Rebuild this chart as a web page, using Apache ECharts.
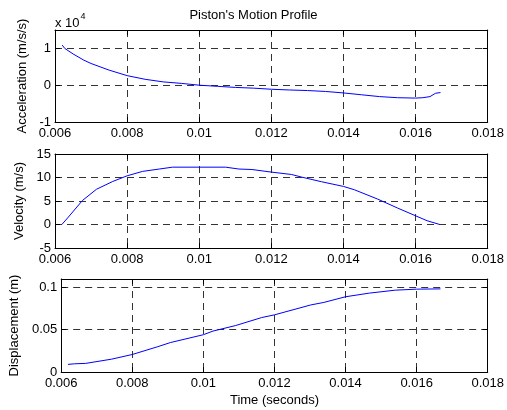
<!DOCTYPE html>
<html>
<head>
<meta charset="utf-8">
<script src="https://cdn.jsdelivr.net/npm/echarts@6/dist/echarts.min.js"></script>
<style>html,body{margin:0;padding:0;background:#fff}#c{width:507px;height:410px}</style>
</head>
<body>
<div id="c"></div>
<script>
// ---- data ----
var accelTime = [0.0062, 0.00627, 0.0063, 0.0065, 0.0068, 0.007, 0.0075, 0.008, 0.0085, 0.009, 0.0095, 0.010, 0.0105, 0.011, 0.0115, 0.012, 0.0125, 0.013, 0.0135, 0.014, 0.0145, 0.015, 0.0155, 0.016, 0.0162, 0.0164, 0.01655, 0.01669];
var accelX1e4 = [1.09, 1.0, 0.97, 0.85, 0.68, 0.59, 0.41, 0.26, 0.16, 0.09, 0.05, 0.0, -0.03, -0.06, -0.08, -0.11, -0.13, -0.145, -0.17, -0.21, -0.26, -0.31, -0.34, -0.35, -0.34, -0.31, -0.22, -0.2];
var velTime = [0.00619, 0.00637, 0.00676, 0.00715, 0.0076, 0.008, 0.00843, 0.00889, 0.00926, 0.010, 0.01073, 0.0111, 0.01146, 0.012, 0.01256, 0.01283, 0.01339, 0.014, 0.0143, 0.01495, 0.0155, 0.016, 0.01632, 0.01667];
var velocity = [0.0, 1.57, 5.1, 7.5, 9.15, 10.36, 11.3, 11.8, 12.2, 12.2, 12.2, 11.8, 11.7, 11.15, 10.64, 10.1, 9.1, 8.1, 7.4, 5.4, 3.5, 1.85, 0.8, 0.0];
var dispTime = [0.00619, 0.00637, 0.00669, 0.00742, 0.008, 0.0087, 0.00907, 0.010, 0.01027, 0.01091, 0.01164, 0.012, 0.01302, 0.01339, 0.014, 0.01467, 0.0154, 0.016, 0.01667];
var displacement = [0.009, 0.0097, 0.0102, 0.0152, 0.0207, 0.0297, 0.0348, 0.0441, 0.0484, 0.055, 0.0644, 0.0676, 0.0793, 0.0823, 0.089, 0.0933, 0.0968, 0.098, 0.0983];
var xTicks = {min: 0.006, max: 0.018, interval: 0.002};
var yAccelTicks = {min: -1, max: 1.5, interval: 1};
var yVelTicks = {min: -5, max: 15, interval: 5};
var yDispTicks = {min: 0, max: 0.11, interval: 0.05};
var titleText = "Piston's Motion Profile";
var xName = 'Time (seconds)';
var yNames = ['Acceleration (m/s/s)', 'Velocity (m/s)', 'Displacement (m)'];

function zip(a, b) { return a.map(function (v, i) { return [v, b[i]]; }); }

var FONT = 'Liberation Sans, Arial, sans-serif';
var grids = [
  {left: 55, right: 17, top: 30, height: 92},
  {left: 55, right: 17, top: 154, height: 94},
  {left: 55, right: 17, top: 279, height: 93}
];
var yTicks = [yAccelTicks, yVelTicks, yDispTicks];
var yGaps = [19, 23, 33];

var lineStyleBlack = {color: '#000', width: 1};
var split = {show: true, lineStyle: {color: '#333', width: 1, type: [7, 5]}};

var xAxes = [], yAxes = [], series = [];
for (var i = 0; i < 3; i++) {
  xAxes.push({
    gridIndex: i, type: 'value', min: xTicks.min, max: xTicks.max, interval: xTicks.interval,
    position: 'bottom',
    axisLine: {show: true, onZero: false, lineStyle: lineStyleBlack},
    axisTick: {show: true, inside: true, length: 5, lineStyle: lineStyleBlack},
    axisLabel: {color: '#000', fontFamily: FONT, fontSize: 13, margin: 5},
    splitLine: split,
    name: i === 2 ? xName : '', nameLocation: 'middle', nameGap: 22,
    nameTextStyle: {color: '#000', fontFamily: FONT, fontSize: 13}
  });
  xAxes.push({
    gridIndex: i, type: 'value', min: xTicks.min, max: xTicks.max, interval: xTicks.interval,
    position: 'top',
    axisLine: {show: true, onZero: false, lineStyle: lineStyleBlack},
    axisTick: {show: true, inside: true, length: 5, lineStyle: lineStyleBlack},
    axisLabel: {show: false}, splitLine: {show: false}
  });
  var yt = yTicks[i];
  yAxes.push({
    gridIndex: i, type: 'value', min: yt.min, max: yt.max, interval: yt.interval,
    position: 'left',
    axisLine: {show: true, onZero: false, lineStyle: lineStyleBlack},
    axisTick: {show: true, inside: true, length: 5, lineStyle: lineStyleBlack},
    axisLabel: {color: '#000', fontFamily: FONT, fontSize: 13, margin: 4, showMaxLabel: i === 1},
    splitLine: split,
    name: yNames[i], nameLocation: 'middle', nameGap: yGaps[i],
    nameTextStyle: {color: '#000', fontFamily: FONT, fontSize: 13}
  });
  yAxes.push({
    gridIndex: i, type: 'value', min: yt.min, max: yt.max, interval: yt.interval,
    position: 'right',
    axisLine: {show: true, onZero: false, lineStyle: lineStyleBlack},
    axisTick: {show: true, inside: true, length: 5, lineStyle: lineStyleBlack},
    axisLabel: {show: false}, splitLine: {show: false}
  });
}
var datasets = [zip(accelTime, accelX1e4), zip(velTime, velocity), zip(dispTime, displacement)];
for (var j = 0; j < 3; j++) {
  series.push({
    type: 'line', xAxisIndex: j * 2, yAxisIndex: j * 2, data: datasets[j],
    showSymbol: false, symbol: 'none', smooth: false, animation: false,
    lineStyle: {color: '#0000ff', width: 1}, z: 3
  });
}

var chart = echarts.init(document.getElementById('c'), null, {renderer: 'canvas'});
chart.setOption({
  backgroundColor: '#fff',
  animation: false,
  title: {text: titleText, left: 'center', top: 4, textStyle: {color: '#000', fontFamily: FONT, fontSize: 13, fontWeight: 'normal'}},
  grid: grids,
  xAxis: xAxes,
  yAxis: yAxes,
  series: series,
  graphic: [{
    type: 'text', left: 55, top: 12,
    style: {
      text: '{a|x 10}{b|4}',
      rich: {
        a: {fontFamily: FONT, fontSize: 13, fill: '#000', verticalAlign: 'bottom', lineHeight: 18},
        b: {fontFamily: FONT, fontSize: 9, fill: '#000', verticalAlign: 'top', padding: [0, 0, 8, 1]}
      }
    }
  }]
});
</script>
</body>
</html>
